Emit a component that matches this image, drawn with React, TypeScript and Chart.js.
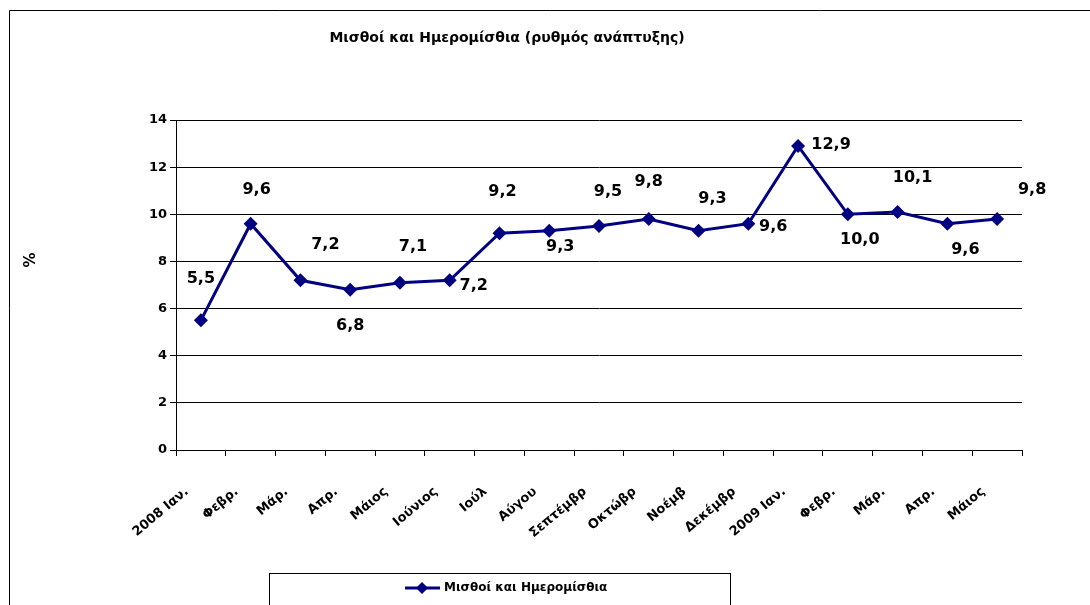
import React, { useEffect, useRef } from "react";
import { Chart, registerables } from "chart.js";

Chart.register(...registerables);

const categories = [
  "2008 Ιαν.", "Φεβρ.", "Μάρ.", "Απρ.", "Μάιος", "Ιούνιος", "Ιούλ", "Αύγου",
  "Σεπτέμβρ", "Οκτώβρ", "Νοέμβ", "Δεκέμβρ", "2009 Ιαν.", "Φεβρ.", "Μάρ.", "Απρ.", "Μάιος",
];
const wages = [5.5, 9.6, 7.2, 6.8, 7.1, 7.2, 9.2, 9.3, 9.5, 9.8, 9.3, 9.6, 12.9, 10.0, 10.1, 9.6, 9.8];
const seriesName = "Μισθοί και Ημερομίσθια";
const chartTitle = "Μισθοί και Ημερομίσθια (ρυθμός ανάπτυξης)";
const yTitle = "%";

// label offsets (style only): [dx, dy] from each point
const labelOffsets: [number, number][] = [
  [0, -42], [6, -34], [25, -35], [0, 36], [13, -36], [24, 6], [3, -41], [11, 16],
  [9, -34], [0, -37], [14, -32], [25, 3], [33, -1], [12, 26], [15, -34], [18, 26], [35, -29],
];

const NAVY = "#000080";
const FONT = "'DejaVu Sans', sans-serif";

const decorPlugin = {
  id: "decor",
  beforeDraw(chart: any) {
    const ctx = chart.ctx;
    ctx.save();
    ctx.fillStyle = "#fff";
    ctx.fillRect(0, 0, chart.width, chart.height);
    ctx.strokeStyle = "#000";
    ctx.lineWidth = 1;
    ctx.beginPath();
    ctx.moveTo(9.5, chart.height + 5);
    ctx.lineTo(9.5, 10.5);
    ctx.lineTo(chart.width + 5, 10.5);
    ctx.stroke();
    // title
    ctx.fillStyle = "#000";
    ctx.font = `bold 14px ${FONT}`;
    ctx.textAlign = "center";
    ctx.textBaseline = "middle";
    ctx.fillText(chartTitle, 507, 38);
    // y axis title
    ctx.save();
    ctx.translate(31, 260);
    ctx.rotate(-Math.PI / 2);
    ctx.font = `bold 15px ${FONT}`;
    ctx.fillText(yTitle, 0, 0);
    ctx.restore();
    ctx.restore();
  },
  afterDatasetsDraw(chart: any) {
    const ctx = chart.ctx;
    const meta = chart.getDatasetMeta(0);
    ctx.save();
    ctx.fillStyle = "#000";
    ctx.font = `bold 16px ${FONT}`;
    ctx.textAlign = "center";
    ctx.textBaseline = "middle";
    meta.data.forEach((el: any, i: number) => {
      const v = chart.data.datasets[0].data[i] as number;
      const [dx, dy] = labelOffsets[i];
      ctx.fillText(v.toFixed(1).replace(".", ","), el.x + dx, el.y + dy);
    });
    // legend
    ctx.strokeStyle = "#000";
    ctx.lineWidth = 1;
    ctx.strokeRect(269.5, 573.5, 461, 50);
    ctx.strokeStyle = NAVY;
    ctx.lineWidth = 3;
    ctx.beginPath();
    ctx.moveTo(405, 588);
    ctx.lineTo(440, 588);
    ctx.stroke();
    ctx.fillStyle = NAVY;
    ctx.beginPath();
    ctx.moveTo(422, 582);
    ctx.lineTo(428, 588);
    ctx.lineTo(422, 594);
    ctx.lineTo(416, 588);
    ctx.closePath();
    ctx.fill();
    ctx.fillStyle = "#000";
    ctx.font = `bold 12px ${FONT}`;
    ctx.textAlign = "left";
    ctx.fillText(seriesName, 444, 588);
    ctx.restore();
  },
};

export default function App() {
  const ref = useRef<HTMLCanvasElement>(null);
  useEffect(() => {
    document.body.style.margin = "0";
    const chart = new Chart(ref.current!, {
      type: "line",
      data: {
        labels: categories,
        datasets: [
          {
            label: seriesName,
            data: wages,
            borderColor: NAVY,
            backgroundColor: NAVY,
            borderWidth: 3,
            pointStyle: "rectRot",
            pointRadius: 7,
            pointBackgroundColor: NAVY,
            pointBorderColor: NAVY,
            pointBorderWidth: 0,
            tension: 0,
          },
        ],
      },
      options: {
        responsive: false,
        animation: false,
        layout: { padding: { left: 22, right: 68, top: 120, bottom: 0 } },
        plugins: {
          legend: { display: false },
          title: { display: false },
          tooltip: { enabled: false },
        },
        scales: {
          x: {
            offset: true,
            grid: {
              offset: true,
              drawOnChartArea: false,
              drawTicks: true,
              tickLength: 6,
              color: "#000",
            },
            border: { color: "#000", width: 1 },
            ticks: {
              autoSkip: false,
              maxRotation: 40,
              minRotation: 40,
              padding: 28,
              labelOffset: -14,
              color: "#000",
              font: { family: FONT, size: 13, weight: "bold" },
            },
            afterFit(scale: any) {
              scale.height = 155;
            },
          },
          y: {
            min: 0,
            max: 14,
            ticks: {
              stepSize: 2,
              padding: 3,
              color: "#000",
              font: { family: FONT, size: 13, weight: "bold" },
            },
            grid: { color: "#000", lineWidth: 1, tickLength: 6 },
            border: { color: "#000", width: 1 },
            afterFit(scale: any) {
              scale.width = 154;
            },
          },
        },
      },
      plugins: [decorPlugin],
    });
    return () => chart.destroy();
  }, []);
  return <canvas ref={ref} width={1090} height={605} style={{ display: "block" }} />;
}
